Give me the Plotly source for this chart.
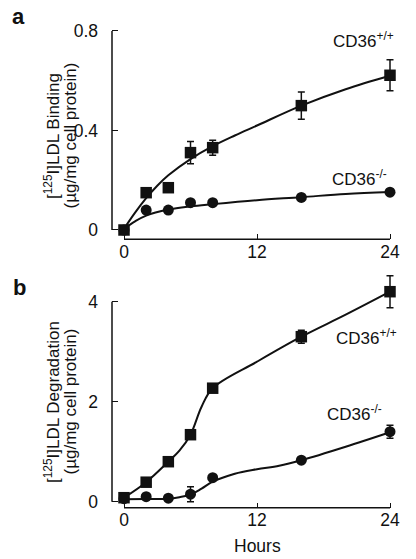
import plotly.graph_objects as go

# ---------------- data ----------------
hours = [0, 2, 4, 6, 8, 16, 24]

# panel a: binding (ug/mg cell protein)
bind_wt = [0.0, 0.150, 0.170, 0.311, 0.331, 0.500, 0.622]
bind_wt_err = [0, 0, 0, 0.045, 0.03, 0.055, 0.062]
bind_ko = [0.0, 0.080, 0.080, 0.110, 0.110, 0.131, 0.152]
bind_ko_err = [0, 0, 0, 0, 0, 0, 0]

# fitted curves panel a
fit_a_wt_x = [0, 1, 2, 3, 4, 6, 8, 10, 12, 16, 20, 24]
fit_a_wt_y = [0.005, 0.070, 0.128, 0.178, 0.220, 0.285, 0.337, 0.380, 0.420, 0.500, 0.566, 0.620]
fit_a_ko_x = [0, 1, 2, 4, 6, 8, 12, 16, 20, 24]
fit_a_ko_y = [0.005, 0.035, 0.058, 0.082, 0.095, 0.104, 0.120, 0.132, 0.145, 0.153]

# panel b: degradation (ug/mg cell protein)
deg_wt = [0.08, 0.39, 0.80, 1.34, 2.27, 3.30, 4.20]
deg_wt_err = [0, 0, 0, 0, 0, 0.13, 0.32]
deg_ko = [0.06, 0.10, 0.07, 0.15, 0.48, 0.83, 1.40]
deg_ko_err = [0, 0, 0, 0.15, 0, 0, 0.13]

fit_b_wt_x = [0, 2, 4, 5, 6, 7, 8, 12, 16, 20, 24]
fit_b_wt_y = [0.08, 0.39, 0.80, 1.02, 1.34, 1.90, 2.27, 2.80, 3.30, 3.74, 4.20]
fit_b_ko_x = [0, 2, 4, 5, 6, 7, 8, 10, 12, 14, 16, 20, 24]
fit_b_ko_y = [0.05, 0.055, 0.06, 0.09, 0.14, 0.26, 0.40, 0.56, 0.65, 0.72, 0.83, 1.10, 1.39]

xticks = [0, 12, 24]
yticks_a = [0, 0.4, 0.8]
yticks_a_text = ["0", "0.4", "0.8"]
yticks_b = [0, 2, 4]

# ---------------- figure ----------------
OFF = 8                      # page body margin of the html page
W, H = 416 - OFF, 559 - OFF
FONT = "Liberation Sans, Arial, Helvetica, sans-serif"
BLACK = "#111111"

fig = go.Figure()

def add_fit(x, y, xa, ya):
    fig.add_trace(go.Scatter(x=x, y=y, mode="lines", xaxis=xa, yaxis=ya,
                             line=dict(color=BLACK, width=2, shape="spline", smoothing=1.0),
                             hoverinfo="skip", showlegend=False))

def add_pts(x, y, err, sym, size, xa, ya):
    fig.add_trace(go.Scatter(x=x, y=y, mode="markers", xaxis=xa, yaxis=ya,
                             marker=dict(symbol=sym, size=size, color=BLACK),
                             error_y=dict(type="data", array=err, visible=True,
                                          color=BLACK, thickness=1.5, width=3.5),
                             cliponaxis=False, showlegend=False))

add_fit(fit_a_wt_x, fit_a_wt_y, "x", "y")
add_fit(fit_a_ko_x, fit_a_ko_y, "x", "y")
add_pts(hours, bind_wt, bind_wt_err, "square", 11.5, "x", "y")
add_pts(hours, bind_ko, bind_ko_err, "circle", 11, "x", "y")

add_fit(fit_b_wt_x, fit_b_wt_y, "x2", "y2")
add_fit(fit_b_ko_x, fit_b_ko_y, "x2", "y2")
add_pts(hours, deg_wt, deg_wt_err, "square", 11.5, "x2", "y2")
add_pts(hours, deg_ko, deg_ko_err, "circle", 11, "x2", "y2")

# pixel geometry (reference page pixels)
x0px, x24px, xleft, xright = 124, 390, 112, 395.5
pph = (x24px - x0px) / 24.0
xmin = -(x0px - xleft) / pph
xmax = (xright - x0px) / pph

# panel a: 0.8 at y=31, 0 at y=230, axis line at 239.3
ya_scale = 0.8 / (230 - 31)
ya_min = -(239.3 - 230) * ya_scale
ya_max = 0.815
ya_top_px = 230 - ya_max / ya_scale
# panel b: 4 at 301.7, 0 at 501.7, axis line 507.7
yb_scale = 4 / (501.7 - 301.7)
yb_min = -(507.7 - 501.7) * yb_scale
yb_max = 4.6
yb_top_px = 501.7 - yb_max / yb_scale

def fx(xp):
    return (xp - OFF) / W

def fy(yp):
    return 1 - (yp - OFF) / H

xdom = [fx(xleft), fx(xright)]
dom_a = [fy(239.3), fy(ya_top_px)]
dom_b = [fy(507.7), fy(yb_top_px)]

tickfont = dict(family=FONT, size=17.5, color=BLACK)
xcommon = dict(range=[xmin, xmax], domain=xdom, tickvals=xticks, ticks="inside",
               ticklen=5, tickwidth=1.3, tickcolor=BLACK, showline=False,
               showgrid=False, zeroline=False, tickfont=tickfont, ticklabelstandoff=0)
ycommon = dict(ticks="inside", ticklen=6, tickwidth=1.3, tickcolor=BLACK, showline=False,
               showgrid=False, zeroline=False, tickfont=tickfont, ticklabelstandoff=13)

fig.update_layout(
    width=W, height=H,
    margin=dict(l=0, r=0, t=0, b=0, autoexpand=False),
    paper_bgcolor="white", plot_bgcolor="white",
    font=dict(family=FONT, color=BLACK),
    xaxis=dict(anchor="y", **xcommon),
    yaxis=dict(anchor="x", domain=dom_a, range=[ya_min, ya_max], tickvals=yticks_a,
               ticktext=yticks_a_text, **ycommon),
    xaxis2=dict(anchor="y2", **xcommon),
    yaxis2=dict(anchor="x2", domain=dom_b, range=[yb_min, yb_max], tickvals=yticks_b, **ycommon),
)

# detached spines
lw = 1.5
fig.add_shape(type="line", xref="x domain", yref="y", x0=0, x1=0, y0=0, y1=0.8,
              line=dict(color=BLACK, width=lw))
fig.add_shape(type="line", xref="x", yref="y domain", x0=0, x1=24, y0=0, y1=0,
              line=dict(color=BLACK, width=lw))
fig.add_shape(type="line", xref="x2 domain", yref="y2", x0=0, x1=0, y0=0, y1=4,
              line=dict(color=BLACK, width=lw))
fig.add_shape(type="line", xref="x2", yref="y2 domain", x0=0, x1=24, y0=0, y1=0,
              line=dict(color=BLACK, width=lw))

annots = []
def ann(text, xp, yp, size=17, xanchor="center", yanchor="middle", angle=0, bold=False):
    annots.append(dict(text=text, x=fx(xp), y=fy(yp), xref="paper", yref="paper",
                       showarrow=False, xanchor=xanchor, yanchor=yanchor, textangle=angle,
                       font=dict(family=FONT, size=size, color=BLACK,
                                 weight="bold" if bold else "normal")))

ann("a", 18, 17, size=22, bold=True)
ann("b", 19, 287, size=22, bold=True)
# two-line rotated axis titles (each line its own annotation for tight spacing)
ann("[<sup>125</sup>I]LDL Binding", 52, 136, size=17, angle=-90)
ann("(µg/mg cell protein)", 69.5, 136, size=17, angle=-90)
ann("[<sup>125</sup>I]LDL Degradation", 52, 402, size=17, angle=-90)
ann("(µg/mg cell protein)", 69.5, 402, size=17, angle=-90)
ann("CD36<sup>+/+</sup>", 396, 40, xanchor="right")
ann("CD36<sup>-/-</sup>", 389, 178, xanchor="right")
ann("CD36<sup>+/+</sup>", 399, 337, xanchor="right")
ann("CD36<sup>-/-</sup>", 384, 413, xanchor="right")
ann("Hours", 257, 546, size=17.5)
fig.update_layout(annotations=annots)

fig.write_html("out.html")
